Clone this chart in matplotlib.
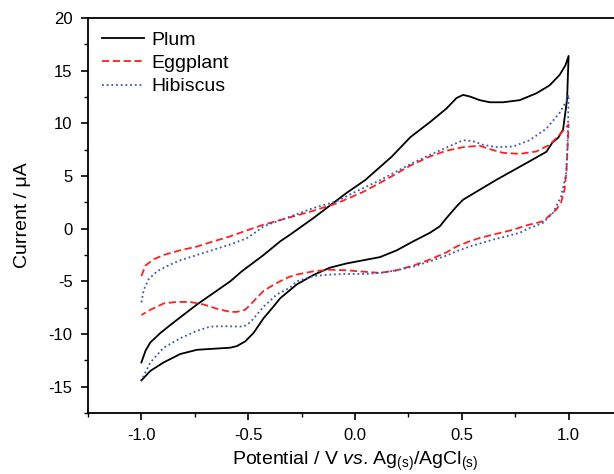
import matplotlib
matplotlib.use("Agg")
import matplotlib.pyplot as plt
from matplotlib.ticker import MultipleLocator

plt.rcParams['font.family'] = ['Liberation Sans', 'DejaVu Sans']
plt.rcParams['mathtext.fontset'] = 'custom'
plt.rcParams['mathtext.rm'] = 'Liberation Sans'
plt.rcParams['mathtext.it'] = 'Liberation Sans:italic'

# Plum (black solid): forward branch then reverse branch
plum_v = [-1.0, -0.981, -0.958, -0.911, -0.849, -0.74, -0.584, -0.53, -0.428, -0.35, -0.304, -0.195,
          -0.039, 0.047, 0.17, 0.26, 0.35, 0.428, 0.475, 0.506, 0.537, 0.584, 0.631, 0.693, 0.771,
          0.849, 0.911, 0.958, 0.985, 1.0,
          0.993, 0.974, 0.95, 0.925, 0.896, 0.8, 0.662, 0.506, 0.475, 0.428, 0.397, 0.35, 0.273,
          0.195, 0.117, 0.039, -0.039, -0.117, -0.195, -0.273, -0.35, -0.382, -0.428, -0.475,
          -0.514, -0.553, -0.584, -0.662, -0.74, -0.818, -0.896, -0.958, -1.0]
plum_i = [-12.7, -11.6, -10.8, -9.9, -8.9, -7.2, -5.0, -4.05, -2.5, -1.2, -0.57, 1.0,
          3.4, 4.6, 6.8, 8.7, 10.1, 11.4, 12.4, 12.7, 12.55, 12.2, 12.0, 12.0, 12.2,
          12.85, 13.6, 14.6, 15.5, 16.4,
          12.3, 9.4, 8.6, 8.2, 7.3, 6.2, 4.64, 2.75, 2.1, 1.0, 0.22, -0.4, -1.2,
          -2.06, -2.7, -3.0, -3.3, -3.7, -4.4, -5.3, -6.6, -7.4, -8.5, -9.9,
          -10.7, -11.15, -11.3, -11.4, -11.5, -11.9, -12.7, -13.5, -14.4]

# Eggplant (red dashed)
egg_v = [-1.0, -0.981, -0.942, -0.896, -0.818, -0.74, -0.662, -0.584, -0.506, -0.428, -0.35, -0.195,
         -0.086, 0.039, 0.14, 0.26, 0.35, 0.428, 0.506, 0.584, 0.631, 0.693, 0.771, 0.849, 0.911,
         0.965, 1.0,
         0.996, 0.99, 0.981, 0.965, 0.942, 0.88, 0.81, 0.74, 0.66, 0.584, 0.536, 0.475, 0.428, 0.35,
         0.273, 0.195, 0.117, 0.039, -0.039, -0.117, -0.195, -0.273, -0.311, -0.366, -0.428, -0.475,
         -0.514, -0.553, -0.584, -0.647, -0.709, -0.771, -0.834, -0.896, -0.958, -1.0]
egg_i = [-4.5, -3.5, -2.9, -2.5, -2.05, -1.7, -1.2, -0.73, -0.16, 0.38, 0.82, 1.7,
         2.4, 3.5, 4.6, 6.0, 6.85, 7.4, 7.74, 7.87, 7.55, 7.2, 7.1, 7.33, 7.96,
         9.07, 9.9,
         8.0, 5.5, 3.7, 2.5, 1.8, 0.7, 0.35, -0.1, -0.5, -0.88, -1.2, -1.7, -2.25, -2.94,
         -3.5, -3.95, -4.2, -4.08, -3.95, -3.9, -4.05, -4.36, -4.6, -5.15, -5.9, -6.9,
         -7.7, -7.9, -7.9, -7.6, -7.2, -6.96, -6.95, -7.1, -7.7, -8.2]

# Hibiscus (blue dotted)
hib_v = [-1.0, -0.989, -0.966, -0.927, -0.864, -0.818, -0.74, -0.662, -0.584, -0.506, -0.459, -0.428,
         -0.366, -0.304, -0.195, -0.086, -0.008, 0.117, 0.26, 0.35, 0.428, 0.506, 0.553, 0.6, 0.662,
         0.74, 0.818, 0.896, 0.958, 0.989, 1.0,
         0.998, 0.995, 0.989, 0.965, 0.927, 0.88, 0.81, 0.771, 0.647, 0.536, 0.475, 0.428, 0.35,
         0.273, 0.195, 0.117, 0.039, -0.039, -0.117, -0.195, -0.273, -0.304, -0.366, -0.428, -0.459,
         -0.491, -0.522, -0.615, -0.678, -0.74, -0.818, -0.896, -0.958, -1.0]
hib_i = [-7.0, -5.8, -4.8, -4.05, -3.4, -3.0, -2.5, -2.0, -1.5, -0.9, -0.25, 0.22,
         0.69, 1.15, 1.96, 2.6, 3.4, 4.6, 6.14, 7.0, 7.7, 8.4, 8.3, 7.96, 7.74,
         7.8, 8.4, 9.5, 11.0, 12.1, 12.7,
         10.5, 8.0, 5.3, 3.06, 1.5, 0.55, 0.0, -0.4, -1.04, -1.7, -2.15, -2.56, -3.1,
         -3.6, -3.95, -4.2, -4.3, -4.3, -4.36, -4.5, -5.0, -5.6, -6.25, -7.4, -8.15,
         -8.9, -9.3, -9.26, -9.3, -9.7, -10.4, -11.3, -12.7, -14.4]

fig = plt.figure(figsize=(6.14, 4.74), dpi=100)
ax = fig.add_axes([88/614, 1 - 413/474, 534/614, (413 - 18)/474])

ax.plot(plum_v, plum_i, color='black', lw=1.3, ls='-', label='Plum')
ax.plot(egg_v, egg_i, color='#ff2020', lw=1.3, ls=(0, (4, 2)), label='Eggplant')
ax.plot(hib_v, hib_i, color='#3a55c0', lw=1.3, ls=(0, (1, 1.6)), label='Hibiscus')

ax.set_xlim(-1.25, 1.25)
ax.set_ylim(-17.5, 20)
ax.xaxis.set_minor_locator(MultipleLocator(0.25))
ax.yaxis.set_minor_locator(MultipleLocator(2.5))
ax.set_xticks([-1.0, -0.5, 0.0, 0.5, 1.0])
ax.set_xticklabels(['-1.0', '-0.5', '0.0', '0.5', '1.0'])
ax.set_yticks([-15, -10, -5, 0, 5, 10, 15, 20])
ax.set_yticklabels(['-15', '-10', '-5', '0', '5', '10', '15', '20'])
ax.tick_params(which='major', direction='out', length=5, width=1.2, labelsize=12, pad=6)
ax.tick_params(which='minor', direction='out', length=3, width=1.0)
ax.tick_params(axis='x', which='both', top=False)
ax.tick_params(axis='y', which='both', right=False)
for s in ax.spines.values():
    s.set_linewidth(1.3)

ax.set_xlabel('Potential / V $\\it{vs}$. Ag$_\\mathrm{(s)}$/AgCl$_\\mathrm{(s)}$', fontsize=14, labelpad=5)
ax.set_ylabel('Current / μA', fontsize=14, labelpad=13)

leg = ax.legend(loc='upper left', frameon=False, fontsize=14, handlelength=2.2,
                borderaxespad=0.3, labelspacing=0.28, handletextpad=0.35,
                bbox_to_anchor=(0.0, 1.0))

fig.savefig('out.png', dpi=100)
